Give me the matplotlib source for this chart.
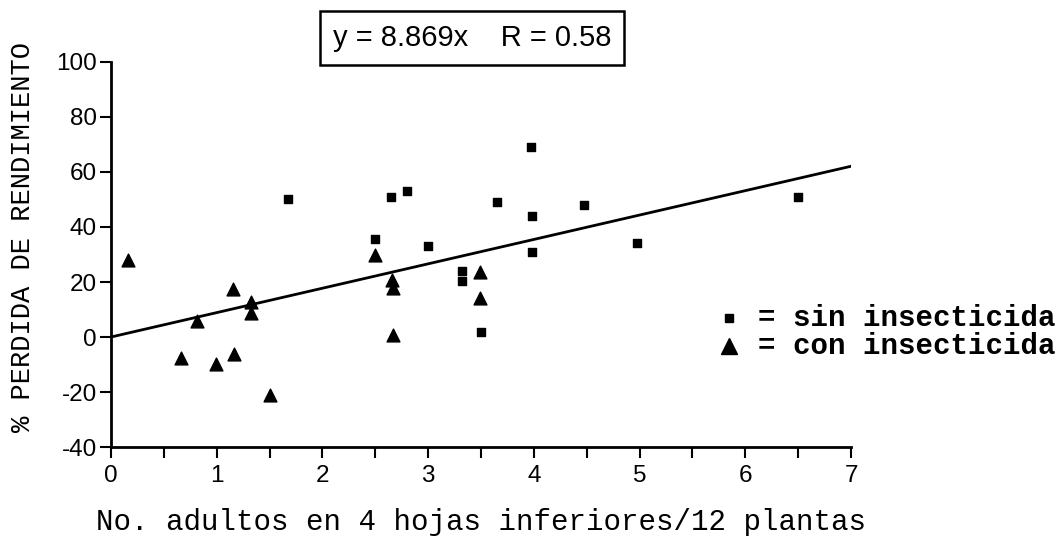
import numpy as np
import matplotlib
matplotlib.use("Agg")
import matplotlib.pyplot as plt

plt.rcParams["axes.unicode_minus"] = False

# datos
sin_x = [1.67, 2.50, 2.65, 2.80, 3.00, 3.32, 3.32, 3.50, 3.65, 3.97, 3.98, 3.98, 4.47, 4.98, 6.50]
sin_y = [50, 35.5, 51, 53, 33, 24, 20.5, 2, 49, 69, 44, 31, 48, 34, 51]

con_x = [0.16, 0.66, 0.81, 0.99, 1.15, 1.16, 1.32, 1.32, 1.50, 2.50, 2.66, 2.67, 2.67, 3.49, 3.49]
con_y = [28, -7.7, 6, -9.7, 17.6, -6, 12.7, 8.7, -21, 29.8, 20.7, 17.8, 0.7, 23.7, 14.3]

pendiente = 8.869
r_valor = 0.58
x_ticks = [0, 1, 2, 3, 4, 5, 6, 7]
y_ticks = [-40, -20, 0, 20, 40, 60, 80, 100]

fig = plt.figure(figsize=(10.59, 5.38), dpi=100)
ax = fig.add_axes([0.1048, 0.1691, 0.6988, 0.7157])

# linea de regresion por el origen
xl = np.array([0, 7])
ax.plot(xl, pendiente * xl, color="black", lw=2)

ax.scatter(sin_x, sin_y, marker="s", s=26, color="black", zorder=3)
ax.scatter(con_x, con_y, marker="^", s=85, color="black", zorder=3)

ax.set_xlim(0, 7)
ax.set_ylim(-40, 100)
ax.set_xticks(x_ticks)
ax.set_xticks(np.arange(0, 7.01, 0.5), minor=True)
ax.set_yticks(y_ticks)
for s in ["top", "right"]:
    ax.spines[s].set_visible(False)
for s in ["left", "bottom"]:
    ax.spines[s].set_linewidth(2)
ax.tick_params(axis="both", which="major", direction="out", width=1.5, length=8, labelsize=17.5)
ax.tick_params(axis="x", which="minor", direction="out", width=1.5, length=8)
ax.tick_params(axis="x", pad=5)
ax.tick_params(axis="y", pad=2)
for lab in ax.get_xticklabels() + ax.get_yticklabels():
    lab.set_family("Liberation Sans")

ax.set_xlabel("No. adultos en 4 hojas inferiores/12 plantas",
              family="Liberation Mono", fontsize=21)
ax.xaxis.set_label_coords(0.5, -0.158)
ax.set_ylabel("% PERDIDA DE RENDIMIENTO", family="Liberation Mono", fontsize=19.5)
ax.yaxis.set_label_coords(-0.102, 0.545)

# cuadro con la ecuacion
fig.text(0.4457, 0.929, f"y = {pendiente}x    R = {r_valor}", family="Liberation Sans",
         fontsize=21, ha="center", va="center",
         bbox=dict(boxstyle="square,pad=0.45", fc="white", ec="black", lw=1.8))

# leyenda escrita a mano
ax.plot([0.688], [0.409], marker="s", ms=6, color="black", ls="none",
        transform=fig.transFigure, clip_on=False)
ax.plot([0.688], [0.357], marker="^", ms=11, color="black", ls="none",
        transform=fig.transFigure, clip_on=False)
fig.text(0.997, 0.409, "= sin insecticida", family="Liberation Mono", weight="bold",
         fontsize=21, ha="right", va="center")
fig.text(0.997, 0.357, "= con insecticida", family="Liberation Mono", weight="bold",
         fontsize=21, ha="right", va="center")

fig.savefig("out.png", dpi=100)
